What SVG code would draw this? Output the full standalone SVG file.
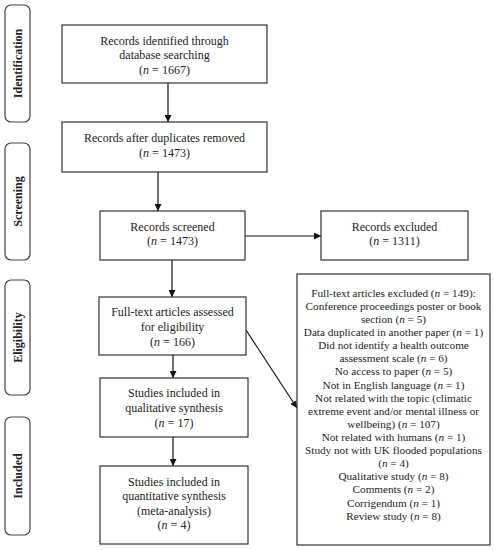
<svg xmlns="http://www.w3.org/2000/svg" width="494" height="550" viewBox="0 0 494 550">
<defs>
<marker id="ah" viewBox="0 0 10 10" refX="10" refY="5" markerWidth="7" markerHeight="7" orient="auto" markerUnits="userSpaceOnUse">
<path d="M0,0 L10,5 L0,10 z" fill="#111"/>
</marker>
<style>
.box{fill:#fff;stroke:#333;stroke-width:1.2}
.side{fill:#fff;stroke:#444;stroke-width:1.2}
.t{font-family:"Liberation Serif",serif;font-size:12px;fill:#222;text-anchor:middle}
.s{font-family:"Liberation Serif",serif;font-size:11.2px;fill:#222;text-anchor:middle}
.lab{font-family:"Liberation Serif",serif;font-size:12px;font-weight:bold;fill:#222;text-anchor:middle}
.c{stroke:#111;stroke-width:1.2;fill:none;marker-end:url(#ah)}
</style>
</defs>
<rect width="494" height="550" fill="#fff"/>
<g id="stage-identification">
<rect class="side" x="5" y="5" width="25" height="117" rx="6"/>
<text class="lab" transform="translate(21.5,63.5) rotate(-90)">Identification</text>
</g>
<g id="stage-screening">
<rect class="side" x="5" y="143" width="25" height="117" rx="6"/>
<text class="lab" transform="translate(21.5,201.5) rotate(-90)">Screening</text>
</g>
<g id="stage-eligibility">
<rect class="side" x="5" y="280" width="25" height="115" rx="6"/>
<text class="lab" transform="translate(21.5,337.5) rotate(-90)">Eligibility</text>
</g>
<g id="stage-included">
<rect class="side" x="5" y="417" width="25" height="118" rx="6"/>
<text class="lab" transform="translate(21.5,476) rotate(-90)">Included</text>
</g>
<g id="connectors">
<line class="c" x1="168" y1="83" x2="168" y2="122"/>
<line class="c" x1="158" y1="172" x2="158" y2="211"/>
<line class="c" x1="245" y1="236" x2="321" y2="236"/>
<line class="c" x1="172" y1="260" x2="172" y2="297"/>
<line class="c" x1="173" y1="355" x2="173" y2="378"/>
<line class="c" x1="173" y1="437" x2="173" y2="466"/>
<line class="c" x1="246" y1="330" x2="297" y2="408"/>
</g>
<g id="n1">
<rect class="box" x="62" y="25" width="205" height="58"/>
<text class="t" x="164.5" y="45">Records identified through</text>
<text class="t" x="164.5" y="59">database searching</text>
<text class="t" x="164.5" y="74">(<tspan font-style="italic">n</tspan> = 1667)</text>
</g>
<g id="n2">
<rect class="box" x="62" y="122" width="205" height="50"/>
<text class="t" x="164.5" y="142">Records after duplicates removed</text>
<text class="t" x="164.5" y="157">(<tspan font-style="italic">n</tspan> = 1473)</text>
</g>
<g id="n3">
<rect class="box" x="100" y="211" width="145" height="49"/>
<text class="t" x="172.5" y="231">Records screened</text>
<text class="t" x="172.5" y="245">(<tspan font-style="italic">n</tspan> = 1473)</text>
</g>
<g id="n4">
<rect class="box" x="321" y="211" width="147" height="49"/>
<text class="t" x="394.5" y="231">Records excluded</text>
<text class="t" x="394.5" y="245">(<tspan font-style="italic">n</tspan> = 1311)</text>
</g>
<g id="n5">
<rect class="box" x="99" y="297" width="147" height="58"/>
<text class="t" x="172.5" y="316">Full-text articles assessed</text>
<text class="t" x="172.5" y="331">for eligibility</text>
<text class="t" x="172.5" y="346">(<tspan font-style="italic">n</tspan> = 166)</text>
</g>
<g id="n6">
<rect class="box" x="100" y="378" width="148" height="59"/>
<text class="t" x="174" y="397">Studies included in</text>
<text class="t" x="174" y="412">qualitative synthesis</text>
<text class="t" x="174" y="427">(<tspan font-style="italic">n</tspan> = 17)</text>
</g>
<g id="n7">
<rect class="box" x="100" y="466" width="148" height="78"/>
<text class="t" x="174" y="486">Studies included in</text>
<text class="t" x="174" y="500">quantitative synthesis</text>
<text class="t" x="174" y="515">(meta-analysis)</text>
<text class="t" x="174" y="529">(<tspan font-style="italic">n</tspan> = 4)</text>
</g>
<g id="n8">
<rect class="box" x="297" y="274" width="193" height="271"/>
<text class="s" x="393.5" y="297">Full-text articles excluded (<tspan font-style="italic">n</tspan> = 149):</text>
<text class="s" x="393.5" y="310">Conference proceedings poster or book</text>
<text class="s" x="393.5" y="323">section (<tspan font-style="italic">n</tspan> = 5)</text>
<text class="s" x="393.5" y="336">Data duplicated in another paper (<tspan font-style="italic">n</tspan> = 1)</text>
<text class="s" x="393.5" y="349">Did not identify a health outcome</text>
<text class="s" x="393.5" y="362">assessment scale (<tspan font-style="italic">n</tspan> = 6)</text>
<text class="s" x="393.5" y="375">No access to paper (<tspan font-style="italic">n</tspan> = 5)</text>
<text class="s" x="393.5" y="389">Not in English language (<tspan font-style="italic">n</tspan> = 1)</text>
<text class="s" x="393.5" y="402">Not related with the topic (climatic</text>
<text class="s" x="393.5" y="415">extreme event and/or mental illness or</text>
<text class="s" x="393.5" y="428">wellbeing) (<tspan font-style="italic">n</tspan> = 107)</text>
<text class="s" x="393.5" y="441">Not related with humans (<tspan font-style="italic">n</tspan> = 1)</text>
<text class="s" x="393.5" y="454">Study not with UK flooded populations</text>
<text class="s" x="393.5" y="467">(<tspan font-style="italic">n</tspan> = 4)</text>
<text class="s" x="393.5" y="480">Qualitative study (<tspan font-style="italic">n</tspan> = 8)</text>
<text class="s" x="393.5" y="493">Comments (<tspan font-style="italic">n</tspan> = 2)</text>
<text class="s" x="393.5" y="507">Corrigendum (<tspan font-style="italic">n</tspan> = 1)</text>
<text class="s" x="393.5" y="520">Review study (<tspan font-style="italic">n</tspan> = 8)</text>
</g>
</svg>
